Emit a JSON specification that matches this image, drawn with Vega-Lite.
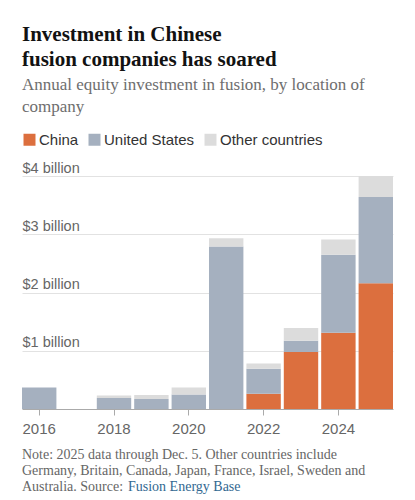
{
  "$schema": "https://vega.github.io/schema/vega-lite/v6.json",
  "padding": {"left": 22, "top": 24, "right": 22, "bottom": 0},
  "background": "white",
  "title": {
    "text": ["Investment in Chinese", "fusion companies has soared"],
    "subtitle": ["Annual equity investment in fusion, by location of", "company"],
    "anchor": "start",
    "font": "Liberation Serif",
    "fontSize": 21,
    "fontWeight": "bold",
    "color": "#121212",
    "lineHeight": 25,
    "subtitleFont": "Liberation Serif",
    "subtitleFontSize": 17,
    "subtitleColor": "#6e6e6e",
    "subtitleLineHeight": 22,
    "subtitlePadding": 7,
    "offset": 17
  },
  "config": {
    "view": {"stroke": null},
    "font": "Liberation Sans"
  },
  "vconcat": [
    {
      "width": 371,
      "height": 233,
      "data": {
        "values": [
          {"year": 2016, "region": "China", "value": 0, "rank": 1},
          {"year": 2016, "region": "United States", "value": 0.37, "rank": 2},
          {"year": 2016, "region": "Other countries", "value": 0, "rank": 3},
          {"year": 2017, "region": "China", "value": 0, "rank": 1},
          {"year": 2017, "region": "United States", "value": 0, "rank": 2},
          {"year": 2017, "region": "Other countries", "value": 0, "rank": 3},
          {"year": 2018, "region": "China", "value": 0, "rank": 1},
          {"year": 2018, "region": "United States", "value": 0.19, "rank": 2},
          {"year": 2018, "region": "Other countries", "value": 0.04, "rank": 3},
          {"year": 2019, "region": "China", "value": 0, "rank": 1},
          {"year": 2019, "region": "United States", "value": 0.17, "rank": 2},
          {"year": 2019, "region": "Other countries", "value": 0.07, "rank": 3},
          {"year": 2020, "region": "China", "value": 0, "rank": 1},
          {"year": 2020, "region": "United States", "value": 0.25, "rank": 2},
          {"year": 2020, "region": "Other countries", "value": 0.12, "rank": 3},
          {"year": 2021, "region": "China", "value": 0, "rank": 1},
          {"year": 2021, "region": "United States", "value": 2.79, "rank": 2},
          {"year": 2021, "region": "Other countries", "value": 0.14, "rank": 3},
          {"year": 2022, "region": "China", "value": 0.26, "rank": 1},
          {"year": 2022, "region": "United States", "value": 0.43, "rank": 2},
          {"year": 2022, "region": "Other countries", "value": 0.09, "rank": 3},
          {"year": 2023, "region": "China", "value": 0.98, "rank": 1},
          {"year": 2023, "region": "United States", "value": 0.19, "rank": 2},
          {"year": 2023, "region": "Other countries", "value": 0.22, "rank": 3},
          {"year": 2024, "region": "China", "value": 1.31, "rank": 1},
          {"year": 2024, "region": "United States", "value": 1.34, "rank": 2},
          {"year": 2024, "region": "Other countries", "value": 0.26, "rank": 3},
          {"year": 2025, "region": "China", "value": 2.16, "rank": 1},
          {"year": 2025, "region": "United States", "value": 1.48, "rank": 2},
          {"year": 2025, "region": "Other countries", "value": 0.36, "rank": 3}
        ]
      },
      "mark": {"type": "bar"},
      "encoding": {
        "x": {
          "field": "year",
          "type": "ordinal",
          "scale": {"paddingInner": 0.08, "paddingOuter": 0},
          "axis": {
            "title": null,
            "values": [2016, 2018, 2020, 2022, 2024],
            "labelAngle": 0,
            "labelFontSize": 15,
            "labelColor": "#666666",
            "labelPadding": 6,
            "domainColor": "#aaaaaa",
            "tickColor": "#aaaaaa",
            "tickSize": 6
          }
        },
        "y": {
          "field": "value",
          "type": "quantitative",
          "stack": "zero",
          "scale": {"domain": [0, 4], "nice": false},
          "axis": {
            "title": null,
            "values": [1, 2, 3, 4],
            "labelExpr": "'$' + datum.value + ' billion'",
            "domain": false,
            "ticks": false,
            "grid": true,
            "gridColor": "#e2e2e2",
            "labelAlign": "left",
            "labelBaseline": "alphabetic",
            "labelPadding": 0,
            "labelOffset": -4,
            "labelFontSize": 14.5,
            "labelColor": "#666666"
          }
        },
        "color": {
          "field": "region",
          "type": "nominal",
          "scale": {
            "domain": ["China", "United States", "Other countries"],
            "range": ["#dc6f3e", "#a5b0bf", "#dcdcdc"]
          },
          "legend": {
            "title": null,
            "orient": "top",
            "direction": "horizontal",
            "symbolType": "square",
            "symbolSize": 144,
            "symbolStrokeWidth": 0,
            "labelFontSize": 15,
            "labelColor": "#333333",
            "labelOffset": 2,
            "columnPadding": 8,
            "offset": 12,
            "padding": 0
          }
        },
        "order": {"field": "rank", "type": "quantitative"}
      }
    },
    {
      "width": 371,
      "height": 48,
      "data": {
        "values": [
          {"line": 1, "part": "text", "text": "Note: 2025 data through Dec. 5. Other countries include"},
          {"line": 2, "part": "text", "text": "Germany, Britain, Canada, Japan, France, Israel, Sweden and"},
          {"line": 3, "part": "text", "text": "Australia. Source:"},
          {"line": 3, "part": "link", "text": "Fusion Energy Base"}
        ]
      },
      "layer": [
        {
          "transform": [{"filter": "datum.part === 'text'"}],
          "mark": {"type": "text", "align": "left", "baseline": "alphabetic", "font": "Liberation Serif", "fontSize": 14, "color": "#666666"},
          "encoding": {
            "y": {"field": "line", "type": "ordinal", "axis": null},
            "x": {"value": 0},
            "text": {"field": "text"}
          }
        },
        {
          "transform": [{"filter": "datum.part === 'link'"}],
          "mark": {"type": "text", "align": "left", "baseline": "alphabetic", "font": "Liberation Serif", "fontSize": 14, "color": "#326891", "dx": 106},
          "encoding": {
            "y": {"field": "line", "type": "ordinal", "axis": null},
            "x": {"value": 0},
            "text": {"field": "text"}
          }
        }
      ]
    }
  ],
  "spacing": 12
}
